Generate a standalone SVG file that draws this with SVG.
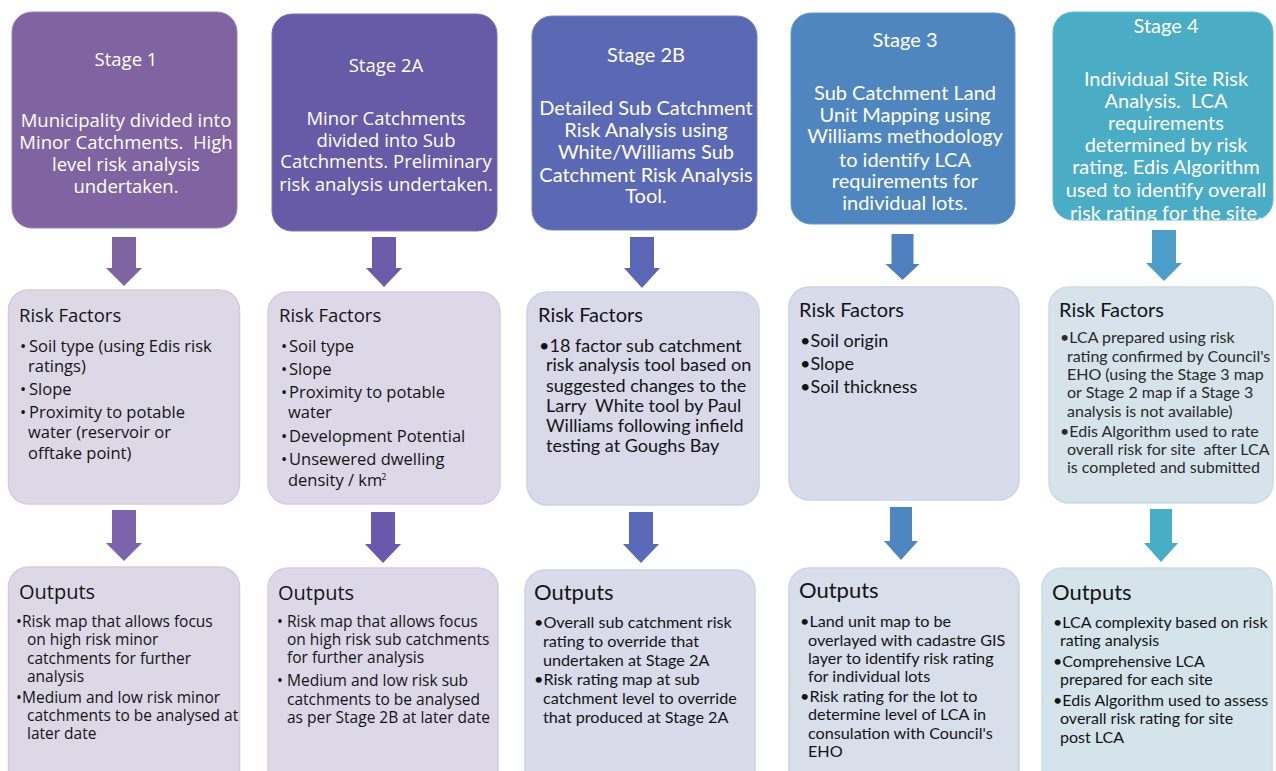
<svg xmlns="http://www.w3.org/2000/svg" width="1276" height="771" viewBox="0 0 1276 771">
  <style>
    text { white-space: pre; }
    .os { font-family: "Open Sans", "Noto Sans", sans-serif; }
    .lt { font-family: "Lato", "Liberation Sans", sans-serif; }
    .head { fill: #ffffff; text-anchor: middle; }
    .body { fill: #141414; }
    .s5 { fill: #2a2a2a; }
    .panel { stroke-width: 1.5; }
  </style>

  <!-- Column 1: Stage 1 -->
  <g id="stage1">
    <rect x="12" y="12" width="225" height="216" rx="20" fill="#8064A2" stroke="#9683B3" stroke-width="1"/>
    <g class="os head" font-size="18.5">
      <text x="126" y="66">Stage 1</text>
      <text x="126" y="127">Municipality divided into</text>
      <text x="126" y="149">Minor Catchments.  High</text>
      <text x="126" y="171">level risk analysis</text>
      <text x="126" y="193">undertaken.</text>
    </g>
  </g>
  <g id="stage1-risk">
    <rect class="panel" x="8.5" y="290" width="231" height="214" rx="20" fill="#DCD8E6" stroke="#D2CDE0"/>
    <g class="os body" font-size="16.5">
      <text x="19" y="322" font-size="18.5">Risk Factors</text>
      <text y="352"><tspan x="20">•</tspan><tspan x="29">Soil type (using Edis risk</tspan></text>
      <text x="28" y="372">ratings)</text>
      <text y="395"><tspan x="20">•</tspan><tspan x="29">Slope</tspan></text>
      <text y="418"><tspan x="20">•</tspan><tspan x="29">Proximity to potable</tspan></text>
      <text x="28" y="438">water (reservoir or</text>
      <text x="28" y="459">offtake point)</text>
    </g>
  </g>
  <g id="stage1-outputs">
    <rect class="panel" x="8.5" y="567" width="231" height="230" rx="20" fill="#DCD8E6" stroke="#D2CDE0"/>
    <g class="os body" font-size="15.5">
      <text x="19" y="599" font-size="20">Outputs</text>
      <text y="627"><tspan x="16">•</tspan><tspan x="22">Risk map that allows focus</tspan></text>
      <text x="27" y="645">on high risk minor</text>
      <text x="27" y="664">catchments for further</text>
      <text x="27" y="682">analysis</text>
      <text y="703"><tspan x="16">•</tspan><tspan x="22">Medium and low risk minor</tspan></text>
      <text x="27" y="721">catchments to be analysed at</text>
      <text x="27" y="739">later date</text>
    </g>
  </g>

  <!-- Column 2: Stage 2A -->
  <g id="stage2a">
    <rect x="272" y="14" width="225" height="217" rx="20" fill="#675BA8" stroke="#7D72B5" stroke-width="1"/>
    <g class="os head" font-size="18.5">
      <text x="386" y="72">Stage 2A</text>
      <text x="386" y="125">Minor Catchments</text>
      <text x="386" y="147">divided into Sub</text>
      <text x="386" y="168">Catchments. Preliminary</text>
      <text x="386" y="191">risk analysis undertaken.</text>
    </g>
  </g>
  <g id="stage2a-risk">
    <rect class="panel" x="268" y="292" width="232" height="212" rx="20" fill="#DCD8E7" stroke="#D2CDE1"/>
    <g class="os body" font-size="16.5">
      <text x="279" y="322" font-size="18.5">Risk Factors</text>
      <text y="352"><tspan x="281">•</tspan><tspan x="289">Soil type</tspan></text>
      <text y="375"><tspan x="281">•</tspan><tspan x="289">Slope</tspan></text>
      <text y="398"><tspan x="281">•</tspan><tspan x="289">Proximity to potable</tspan></text>
      <text x="288" y="418">water</text>
      <text y="442"><tspan x="281">•</tspan><tspan x="289">Development Potential</tspan></text>
      <text y="465"><tspan x="281">•</tspan><tspan x="289">Unsewered dwelling</tspan></text>
      <text x="288" y="486">density / km<tspan font-size="9" dx="-1" dy="-6">2</tspan></text>
    </g>
  </g>
  <g id="stage2a-outputs">
    <rect class="panel" x="268" y="568" width="230" height="230" rx="20" fill="#DCD8E7" stroke="#D2CDE1"/>
    <g class="os body" font-size="15.5">
      <text x="278" y="600" font-size="20">Outputs</text>
      <text y="627"><tspan x="277">•</tspan><tspan x="287">Risk map that allows focus</tspan></text>
      <text x="287" y="645">on high risk sub catchments</text>
      <text x="287" y="663">for further analysis</text>
      <text y="686"><tspan x="277">•</tspan><tspan x="287">Medium and low risk sub</tspan></text>
      <text x="287" y="705">catchments to be analysed</text>
      <text x="287" y="723">as per Stage 2B at later date</text>
    </g>
  </g>

  <!-- Column 3: Stage 2B -->
  <g id="stage2b">
    <rect x="532" y="16" width="225" height="214" rx="20" fill="#5B68B4" stroke="#7280C0" stroke-width="1"/>
    <g class="lt head" font-size="20">
      <text x="646" y="62">Stage 2B</text>
      <text x="646" y="115">Detailed Sub Catchment</text>
      <text x="646" y="137">Risk Analysis using</text>
      <text x="646" y="159">White/Williams Sub</text>
      <text x="646" y="182">Catchment Risk Analysis</text>
      <text x="646" y="203">Tool.</text>
    </g>
  </g>
  <g id="stage2b-risk">
    <rect class="panel" x="527" y="292" width="232" height="213" rx="20" fill="#D9D9EA" stroke="#CFD0E4"/>
    <g class="lt body" font-size="18">
      <text x="538" y="322" font-size="20">Risk Factors</text>
      <text x="539" y="352">•18 factor sub catchment</text>
      <text x="546" y="371">risk analysis tool based on</text>
      <text x="546" y="392">suggested changes to the</text>
      <text x="546" y="412">Larry  White tool by Paul</text>
      <text x="546" y="432">Williams following infield</text>
      <text x="546" y="452">testing at Goughs Bay</text>
    </g>
  </g>
  <g id="stage2b-outputs">
    <rect class="panel" x="525" y="570" width="230" height="230" rx="20" fill="#D9DBEA" stroke="#CFD1E4"/>
    <g class="lt body" font-size="16.2">
      <text x="534" y="600" font-size="22">Outputs</text>
      <text x="534" y="628">•Overall sub catchment risk</text>
      <text x="543" y="647">rating to override that</text>
      <text x="543" y="666">undertaken at Stage 2A</text>
      <text x="534" y="685">•Risk rating map at sub</text>
      <text x="543" y="704">catchment level to override</text>
      <text x="543" y="723">that produced at Stage 2A</text>
    </g>
  </g>

  <!-- Column 4: Stage 3 -->
  <g id="stage3">
    <rect x="791" y="13" width="224" height="211" rx="20" fill="#4F86C0" stroke="#6898CA" stroke-width="1"/>
    <g class="lt head" font-size="20">
      <text x="905" y="47">Stage 3</text>
      <text x="905" y="100">Sub Catchment Land</text>
      <text x="905" y="122">Unit Mapping using</text>
      <text x="905" y="143">Williams methodology</text>
      <text x="905" y="167">to identify LCA</text>
      <text x="905" y="188">requirements for</text>
      <text x="905" y="210">individual lots.</text>
    </g>
  </g>
  <g id="stage3-risk">
    <rect class="panel" x="789" y="287" width="230" height="213" rx="20" fill="#D8DCEA" stroke="#CDD3E5"/>
    <g class="lt body" font-size="18">
      <text x="799" y="317" font-size="20">Risk Factors</text>
      <text x="800" y="347">•Soil origin</text>
      <text x="800" y="370">•Slope</text>
      <text x="800" y="393">•Soil thickness</text>
    </g>
  </g>
  <g id="stage3-outputs">
    <rect class="panel" x="789" y="568" width="230" height="230" rx="20" fill="#D8DEEA" stroke="#CDD4E5"/>
    <g class="lt body" font-size="16.2">
      <text x="799" y="598" font-size="22">Outputs</text>
      <text x="800" y="627">•Land unit map to be</text>
      <text x="808" y="646">overlayed with cadastre GIS</text>
      <text x="808" y="664">layer to identify risk rating</text>
      <text x="808" y="682">for individual lots</text>
      <text x="800" y="702">•Risk rating for the lot to</text>
      <text x="808" y="720">determine level of LCA in</text>
      <text x="808" y="739">consulation with Council's</text>
      <text x="808" y="757">EHO</text>
    </g>
  </g>

  <!-- Column 5: Stage 4 -->
  <g id="stage4">
    <rect x="1053" y="12" width="220" height="208" rx="20" fill="#4BACC6" stroke="#66BACF" stroke-width="1"/>
    <g class="lt head" font-size="20">
      <text x="1166" y="33">Stage 4</text>
      <text x="1166" y="86">Individual Site Risk</text>
      <text x="1166" y="108">Analysis.  LCA</text>
      <text x="1166" y="130">requirements</text>
      <text x="1166" y="152">determined by risk</text>
      <text x="1166" y="174">rating. Edis Algorithm</text>
      <text x="1166" y="197">used to identify overall</text>
      <text x="1166" y="220">risk rating for the site.</text>
    </g>
  </g>
  <g id="stage4-risk">
    <rect class="panel" x="1049" y="287" width="224" height="216" rx="20" fill="#D6E3EB" stroke="#CCDAE5"/>
    <g class="lt s5" font-size="16">
      <text x="1059" y="317" font-size="20" fill="#141414">Risk Factors</text>
      <text x="1060" y="343">•LCA prepared using risk</text>
      <text x="1067" y="362">rating confirmed by Council's</text>
      <text x="1067" y="380">EHO (using the Stage 3 map</text>
      <text x="1067" y="398">or Stage 2 map if a Stage 3</text>
      <text x="1067" y="417">analysis is not available)</text>
      <text x="1060" y="437">•Edis Algorithm used to rate</text>
      <text x="1067" y="455">overall risk for site  after LCA</text>
      <text x="1067" y="473">is completed and submitted</text>
    </g>
  </g>
  <g id="stage4-outputs">
    <rect class="panel" x="1042" y="568" width="230" height="230" rx="20" fill="#D5E4EB" stroke="#CADBE5"/>
    <g class="lt body" font-size="16">
      <text x="1052" y="600" font-size="22">Outputs</text>
      <text x="1053" y="628">•LCA complexity based on risk</text>
      <text x="1060" y="646">rating analysis</text>
      <text x="1053" y="667">•Comprehensive LCA</text>
      <text x="1060" y="685">prepared for each site</text>
      <text x="1053" y="706">•Edis Algorithm used to assess</text>
      <text x="1060" y="724">overall risk rating for site</text>
      <text x="1060" y="743">post LCA</text>
    </g>
  </g>

  <!-- Block arrows between the rows -->
  <g id="connectors">
    <polygon fill="#8064A2" points="112,237 136,237 136,268 142,268 124,286 106,268 112,268"/>
    <polygon fill="#6B5BAA" points="372,237 396,237 396,268 402,268 384,287 366,268 372,268"/>
    <polygon fill="#5C66B6" points="630,237 654,237 654,268 660,268 642,288 624,268 630,268"/>
    <polygon fill="#4E80C0" points="891.5,234 913.5,234 913.5,264 919.5,264 902.5,280 885.5,264 891.5,264"/>
    <polygon fill="#4C9DC8" points="1152,230 1176,230 1176,263 1182,263 1164,281 1146,263 1152,263"/>

    <polygon fill="#7D63AA" points="112,510 136,510 136,543 142,543 124,561 106,543 112,543"/>
    <polygon fill="#6958AC" points="371,512 395,512 395,544 401,544 383,563 365,544 371,544"/>
    <polygon fill="#5A6AB8" points="629,512 653,512 653,544 659,544 641,563 623,544 629,544"/>
    <polygon fill="#4D86C0" points="890,507 912,507 912,541 918,541 901,560 884,541 890,541"/>
    <polygon fill="#4AADC6" points="1150,509 1172,509 1172,543 1178,543 1161,562 1144,543 1150,543"/>
  </g>
</svg>
